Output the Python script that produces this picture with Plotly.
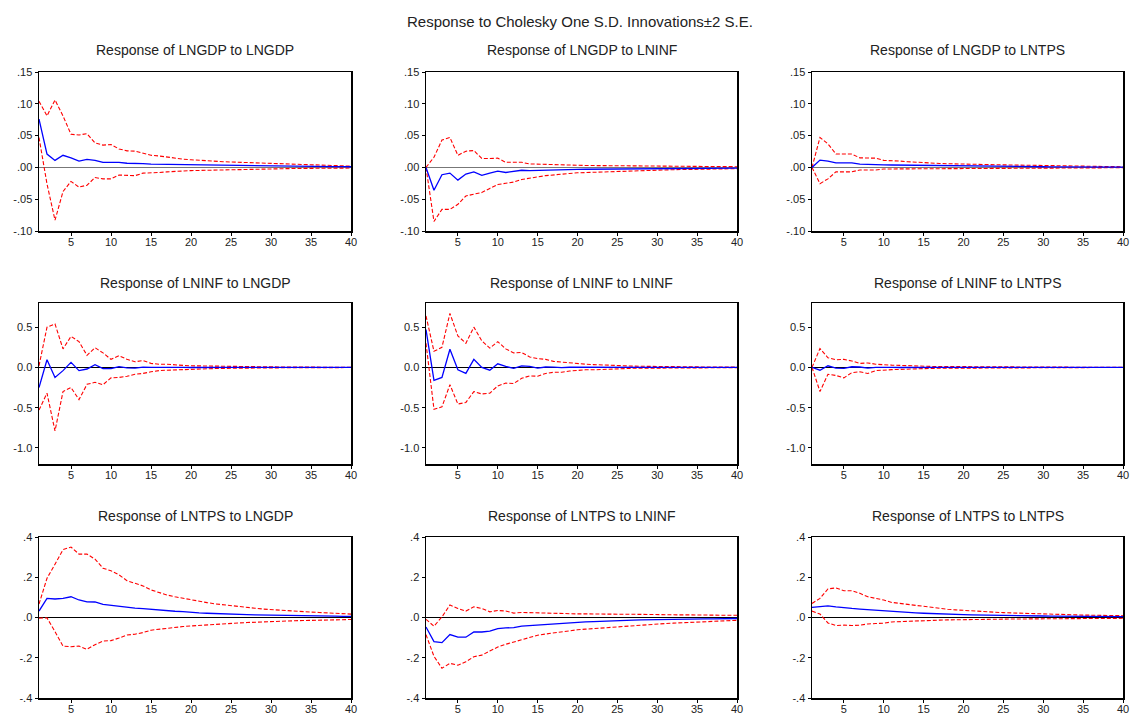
import plotly.graph_objects as go

periods = list(range(1, 41))

# ---- Row 1: Response of LNGDP ----
gdp_gdp = [0.076,0.021,0.011,0.019,0.015,0.010,0.0125,0.011,0.008,0.0085,0.008,0.0065,0.0065,0.006,0.005,0.0048,0.0045,0.0042,0.004,0.0037,
           0.0035,0.0033,0.0031,0.003,0.0028,0.0026,0.0025,0.0023,0.0022,0.002,0.0019,0.0018,0.0017,0.0016,0.0015,0.0014,0.0013,0.0012,0.0011,0.001]
gdp_gdp_up = [0.104,0.081,0.106,0.081,0.052,0.051,0.053,0.0385,0.035,0.036,0.029,0.026,0.0255,0.022,0.019,0.018,0.016,0.014,0.013,0.012,
              0.011,0.0105,0.0098,0.009,0.0085,0.008,0.0075,0.007,0.0065,0.006,0.0056,0.0052,0.0048,0.0044,0.004,0.0036,0.0032,0.0028,0.0024,0.002]
gdp_gdp_lo = [0.047,-0.026,-0.083,-0.038,-0.022,-0.031,-0.028,-0.016,-0.018,-0.018,-0.012,-0.012,-0.013,-0.009,-0.009,-0.008,-0.007,-0.006,-0.006,-0.005,
              -0.0048,-0.0045,-0.004,-0.0035,-0.003,-0.0028,-0.0026,-0.0024,-0.0022,-0.002,-0.0019,-0.0018,-0.0017,-0.0016,-0.0015,-0.0014,-0.0013,-0.0012,-0.0011,-0.001]

gdp_inf = [0,-0.036,-0.0115,-0.009,-0.020,-0.0105,-0.007,-0.0125,-0.009,-0.006,-0.008,-0.006,-0.0045,-0.005,-0.0045,-0.004,-0.0038,-0.0035,-0.0033,-0.003,
           -0.0029,-0.0028,-0.0026,-0.0025,-0.0023,-0.0022,-0.0021,-0.002,-0.0019,-0.0018,-0.0017,-0.0016,-0.0015,-0.0014,-0.0013,-0.0013,-0.0012,-0.0011,-0.0011,-0.001]
gdp_inf_up = [0,0.016,0.043,0.047,0.019,0.0255,0.0265,0.014,0.014,0.0145,0.008,0.008,0.008,0.0055,0.005,0.005,0.004,0.0038,0.0035,0.0032,
              0.003,0.0029,0.0028,0.0027,0.0026,0.0025,0.0024,0.0023,0.0022,0.0021,0.002,0.0019,0.0018,0.0017,0.0016,0.0015,0.0014,0.0013,0.0012,0.0011]
gdp_inf_lo = [0,-0.085,-0.066,-0.066,-0.058,-0.045,-0.042,-0.0395,-0.033,-0.027,-0.025,-0.023,-0.019,-0.0165,-0.015,-0.013,-0.0115,-0.0105,-0.0095,-0.0085,
              -0.008,-0.0075,-0.007,-0.0065,-0.006,-0.0056,-0.0052,-0.0048,-0.0044,-0.004,-0.0038,-0.0036,-0.0034,-0.0032,-0.003,-0.0028,-0.0026,-0.0024,-0.0022,-0.002]

gdp_tps = [0,0.0115,0.010,0.007,0.007,0.007,0.005,0.005,0.005,0.004,0.0038,0.0036,0.0034,0.0032,0.003,0.0028,0.0026,0.0024,0.0022,0.002,
           0.0019,0.0018,0.0017,0.0016,0.0015,0.0014,0.0013,0.0012,0.0011,0.001,0.00095,0.0009,0.00085,0.0008,0.00075,0.0007,0.00065,0.0006,0.00055,0.0005]
gdp_tps_up = [0,0.047,0.037,0.021,0.021,0.021,0.015,0.0145,0.0145,0.011,0.011,0.010,0.009,0.008,0.007,0.0066,0.0062,0.0058,0.0054,0.005,
              0.0048,0.0046,0.0044,0.0042,0.004,0.0038,0.0036,0.0034,0.0032,0.003,0.0028,0.0026,0.0024,0.0022,0.002,0.0018,0.0016,0.0014,0.0012,0.001]
gdp_tps_lo = [0,-0.0255,-0.018,-0.007,-0.007,-0.007,-0.004,-0.004,-0.004,-0.0025,-0.0024,-0.0023,-0.0022,-0.0021,-0.002,-0.0019,-0.0018,-0.0017,-0.0016,-0.0015,
              -0.0014,-0.0014,-0.0013,-0.0013,-0.0012,-0.0012,-0.0011,-0.0011,-0.001,-0.001,-0.0009,-0.0009,-0.0008,-0.0008,-0.0007,-0.0007,-0.0006,-0.0006,-0.0005,-0.0005]

# ---- Row 2: Response of LNINF ----
inf_gdp = [-0.25,0.095,-0.125,-0.04,0.062,-0.04,-0.02,0.033,-0.015,-0.016,0.01,-0.005,-0.008,0.003,0.0,0.002,-0.002,0.001,0.0,-0.001,
           0.001,0.0,0.0,0.0,0.0,0.0,0.0,0.0,0.0,0.0,0.0,0.0,0.0,0.0,0.0,0.0,0.0,0.0,0.0,0.0]
inf_gdp_up = [0.02,0.5,0.54,0.23,0.385,0.32,0.15,0.245,0.18,0.10,0.145,0.10,0.07,0.085,0.05,0.04,0.04,0.03,0.025,0.02,
              0.018,0.016,0.014,0.012,0.01,0.009,0.008,0.007,0.006,0.005,0.0045,0.004,0.0035,0.003,0.003,0.0025,0.0025,0.002,0.002,0.002]
inf_gdp_lo = [-0.53,-0.32,-0.79,-0.30,-0.25,-0.40,-0.21,-0.185,-0.215,-0.13,-0.125,-0.11,-0.085,-0.075,-0.055,-0.04,-0.035,-0.03,-0.025,-0.02,
              -0.018,-0.016,-0.014,-0.012,-0.01,-0.009,-0.008,-0.007,-0.006,-0.005,-0.0045,-0.004,-0.0035,-0.003,-0.003,-0.0025,-0.0025,-0.002,-0.002,-0.002]

inf_inf = [0.47,-0.16,-0.125,0.225,-0.03,-0.075,0.10,0.0,-0.035,0.045,0.012,-0.012,0.02,0.012,-0.008,0.005,0.004,-0.002,0.002,0.001,
           0.001,0.0,0.0,0.0,0.0,0.0,0.0,0.0,0.0,0.0,0.0,0.0,0.0,0.0,0.0,0.0,0.0,0.0,0.0,0.0]
inf_inf_up = [0.64,0.20,0.25,0.67,0.39,0.30,0.50,0.33,0.24,0.32,0.23,0.18,0.185,0.13,0.11,0.10,0.075,0.065,0.055,0.045,
              0.04,0.035,0.03,0.025,0.02,0.018,0.016,0.014,0.012,0.01,0.009,0.008,0.007,0.006,0.005,0.0045,0.004,0.0035,0.003,0.003]
inf_inf_lo = [0.30,-0.52,-0.49,-0.215,-0.455,-0.435,-0.30,-0.33,-0.32,-0.23,-0.195,-0.20,-0.135,-0.105,-0.11,-0.075,-0.06,-0.06,-0.045,-0.035,
              -0.03,-0.03,-0.025,-0.02,-0.015,-0.013,-0.011,-0.01,-0.009,-0.008,-0.007,-0.006,-0.0055,-0.005,-0.0045,-0.004,-0.0035,-0.003,-0.003,-0.003]

inf_tps = [0,-0.035,0.02,-0.01,-0.012,0.008,0.005,-0.008,0.0,0.003,0.001,-0.001,0.001,0.0,0.0,0.0,0.0,0.0,0.0,0.0,
           0.0,0.0,0.0,0.0,0.0,0.0,0.0,0.0,0.0,0.0,0.0,0.0,0.0,0.0,0.0,0.0,0.0,0.0,0.0,0.0]
inf_tps_up = [0,0.235,0.12,0.095,0.10,0.08,0.05,0.055,0.04,0.03,0.028,0.025,0.02,0.018,0.015,0.012,0.011,0.01,0.009,0.008,
              0.0075,0.007,0.0065,0.006,0.005,0.0047,0.0044,0.0041,0.0038,0.0035,0.0032,0.003,0.0028,0.0026,0.0024,0.0022,0.002,0.0018,0.0016,0.0014]
inf_tps_lo = [0,-0.30,-0.085,-0.10,-0.13,-0.065,-0.055,-0.075,-0.04,-0.03,-0.028,-0.025,-0.02,-0.018,-0.015,-0.012,-0.011,-0.01,-0.009,-0.008,
              -0.0075,-0.007,-0.0065,-0.006,-0.005,-0.0047,-0.0044,-0.0041,-0.0038,-0.0035,-0.0032,-0.003,-0.0028,-0.0026,-0.0024,-0.0022,-0.002,-0.0018,-0.0016,-0.0014]

# ---- Row 3: Response of LNTPS ----
tps_gdp = [0.032,0.095,0.092,0.095,0.103,0.087,0.078,0.077,0.065,0.06,0.057,0.052,0.047,0.044,0.04,0.037,0.034,0.031,0.029,0.025,
           0.023,0.021,0.019,0.018,0.016,0.015,0.014,0.013,0.012,0.011,0.010,0.0095,0.009,0.0085,0.008,0.0075,0.007,0.0065,0.006,0.0055]
tps_gdp_up = [0.067,0.195,0.265,0.337,0.35,0.315,0.315,0.29,0.245,0.232,0.212,0.183,0.17,0.157,0.137,0.123,0.112,0.103,0.095,0.087,
              0.080,0.074,0.068,0.063,0.058,0.053,0.049,0.046,0.042,0.039,0.036,0.033,0.031,0.029,0.027,0.025,0.023,0.021,0.019,0.017]
tps_gdp_lo = [-0.003,-0.002,-0.07,-0.142,-0.145,-0.142,-0.158,-0.135,-0.117,-0.115,-0.102,-0.087,-0.083,-0.075,-0.063,-0.058,-0.053,-0.049,-0.045,-0.042,
              -0.039,-0.036,-0.034,-0.031,-0.029,-0.027,-0.025,-0.023,-0.021,-0.019,-0.018,-0.017,-0.016,-0.015,-0.014,-0.013,-0.012,-0.011,-0.0105,-0.01]

tps_inf = [-0.047,-0.12,-0.125,-0.085,-0.098,-0.098,-0.072,-0.072,-0.068,-0.055,-0.052,-0.05,-0.043,-0.04,-0.037,-0.034,-0.031,-0.029,-0.027,-0.024,
           -0.022,-0.02,-0.018,-0.016,-0.015,-0.014,-0.013,-0.012,-0.011,-0.01,-0.0095,-0.009,-0.0085,-0.008,-0.0075,-0.007,-0.0065,-0.006,-0.0055,-0.005]
tps_inf_up = [-0.009,-0.043,0.003,0.062,0.045,0.032,0.053,0.045,0.028,0.035,0.032,0.022,0.025,0.024,0.02,0.02,0.02,0.019,0.019,0.018,
              0.018,0.017,0.017,0.017,0.016,0.016,0.016,0.015,0.015,0.014,0.014,0.014,0.013,0.013,0.012,0.012,0.012,0.011,0.011,0.011]
tps_inf_lo = [-0.085,-0.193,-0.252,-0.228,-0.237,-0.22,-0.195,-0.187,-0.167,-0.147,-0.133,-0.122,-0.11,-0.1,-0.088,-0.082,-0.076,-0.071,-0.066,-0.061,
              -0.058,-0.055,-0.051,-0.048,-0.045,-0.042,-0.039,-0.037,-0.034,-0.032,-0.03,-0.028,-0.026,-0.024,-0.022,-0.02,-0.018,-0.017,-0.0155,-0.014]

tps_tps = [0.05,0.053,0.058,0.053,0.048,0.045,0.042,0.039,0.036,0.032,0.029,0.027,0.025,0.023,0.021,0.019,0.017,0.016,0.015,0.014,
           0.013,0.012,0.011,0.0105,0.01,0.0095,0.009,0.0085,0.008,0.0075,0.007,0.0065,0.006,0.0057,0.0054,0.0051,0.0048,0.0045,0.0042,0.004]
tps_tps_up = [0.07,0.095,0.142,0.147,0.133,0.133,0.12,0.103,0.095,0.087,0.075,0.07,0.064,0.058,0.053,0.049,0.045,0.041,0.038,0.035,
              0.032,0.03,0.028,0.026,0.024,0.0225,0.021,0.0197,0.0184,0.017,0.016,0.015,0.014,0.013,0.012,0.0115,0.011,0.0105,0.01,0.009]
tps_tps_lo = [0.032,0.017,-0.027,-0.04,-0.038,-0.04,-0.038,-0.032,-0.03,-0.028,-0.022,-0.02,-0.018,-0.016,-0.015,-0.014,-0.013,-0.012,-0.011,-0.01,
              -0.0096,-0.0092,-0.0088,-0.0084,-0.008,-0.0076,-0.0072,-0.0068,-0.0064,-0.006,-0.0058,-0.0056,-0.0054,-0.0052,-0.005,-0.0048,-0.0046,-0.0044,-0.0042,-0.004]

panel_titles = [
    ["Response of LNGDP to LNGDP", "Response of LNGDP to LNINF", "Response of LNGDP to LNTPS"],
    ["Response of LNINF to LNGDP", "Response of LNINF to LNINF", "Response of LNINF to LNTPS"],
    ["Response of LNTPS to LNGDP", "Response of LNTPS to LNINF", "Response of LNTPS to LNTPS"],
]
panel_data = [
    [(gdp_gdp, gdp_gdp_up, gdp_gdp_lo), (gdp_inf, gdp_inf_up, gdp_inf_lo), (gdp_tps, gdp_tps_up, gdp_tps_lo)],
    [(inf_gdp, inf_gdp_up, inf_gdp_lo), (inf_inf, inf_inf_up, inf_inf_lo), (inf_tps, inf_tps_up, inf_tps_lo)],
    [(tps_gdp, tps_gdp_up, tps_gdp_lo), (tps_inf, tps_inf_up, tps_inf_lo), (tps_tps, tps_tps_up, tps_tps_lo)],
]
row_yrange = [[-0.10, 0.15], [-1.2, 0.8], [-0.4, 0.4]]
row_ytickvals = [[-0.10, -0.05, 0.0, 0.05, 0.10, 0.15], [-1.0, -0.5, 0.0, 0.5], [-0.4, -0.2, 0.0, 0.2, 0.4]]
row_yticktext = [["-.10", "-.05", ".00", ".05", ".10", ".15"], ["-1.0", "-0.5", "0.0", "0.5"], ["-.4", "-.2", ".0", ".2", ".4"]]
xtickvals = [5, 10, 15, 20, 25, 30, 35, 40]
main_title = "Response to Cholesky One S.D. Innovations\u00b12 S.E."

W, H = 1130, 716
col_px = [(39, 351), (426, 737), (812, 1123)]
row_px = [(72, 231), (303, 464), (537, 698)]
title_py = [50, 283, 516]

FONT = "Liberation Sans, Arial, sans-serif"
fig = go.Figure()
layout = dict(
    width=W, height=H, margin=dict(l=0, r=0, t=0, b=0),
    paper_bgcolor="white", plot_bgcolor="white", showlegend=False,
    font=dict(family=FONT, color="#222", size=11),
)
annotations = []
idx = 0
for r in range(3):
    for c in range(3):
        idx += 1
        xa = "xaxis" if idx == 1 else f"xaxis{idx}"
        ya = "yaxis" if idx == 1 else f"yaxis{idx}"
        xref = "x" if idx == 1 else f"x{idx}"
        yref = "y" if idx == 1 else f"y{idx}"
        x0, x1 = col_px[c]
        y0, y1 = row_px[r]
        layout[xa] = dict(
            domain=[x0 / W, x1 / W], anchor=yref, range=[1, 40],
            tickvals=xtickvals, ticks="outside", ticklen=3, tickcolor="black",
            ticklabelstandoff=-3,
            showline=True, linecolor="black", linewidth=1.5, mirror=True,
            showgrid=False, zeroline=False, tickfont=dict(size=11, family=FONT, color="#222"),
            automargin=False,
        )
        layout[ya] = dict(
            domain=[1 - y1 / H, 1 - y0 / H], anchor=xref, range=row_yrange[r],
            tickvals=row_ytickvals[r], ticktext=row_yticktext[r],
            ticks="outside", ticklen=3, tickcolor="black",
            showline=True, linecolor="black", linewidth=1.5, mirror=True,
            showgrid=False, zeroline=True,
            zerolinecolor="#777" if r == 0 else "black", zerolinewidth=1.5 if r == 0 else 1,
            tickfont=dict(size=11, family=FONT, color="#222"), automargin=False,
        )
        resp, up, lo = panel_data[r][c]
        fig.add_trace(go.Scatter(x=periods, y=up, mode="lines", xaxis=xref, yaxis=yref,
                                 line=dict(color="#ff0000", width=1.1, dash="4px,2px")))
        fig.add_trace(go.Scatter(x=periods, y=lo, mode="lines", xaxis=xref, yaxis=yref,
                                 line=dict(color="#ff0000", width=1.1, dash="4px,2px")))
        fig.add_trace(go.Scatter(x=periods, y=resp, mode="lines", xaxis=xref, yaxis=yref,
                                 line=dict(color="#0000ff", width=1.3)))
        annotations.append(dict(
            text=panel_titles[r][c], x=(x0 + x1) / 2 / W, y=1 - title_py[r] / H,
            xref="paper", yref="paper", showarrow=False, xanchor="center", yanchor="middle",
            font=dict(size=14, family=FONT, color="#222"),
        ))

annotations.append(dict(
    text=main_title, x=580 / W, y=1 - 21 / H, xref="paper", yref="paper",
    showarrow=False, xanchor="center", yanchor="middle",
    font=dict(size=15, family=FONT, color="#222"),
))
layout["annotations"] = annotations
fig.update_layout(**layout)
fig.write_html(
    "out.html",
    config={"displayModeBar": False, "staticPlot": True},
    post_script="document.body.style.margin='0';document.body.style.padding='0';document.body.style.overflow='hidden';",
)
